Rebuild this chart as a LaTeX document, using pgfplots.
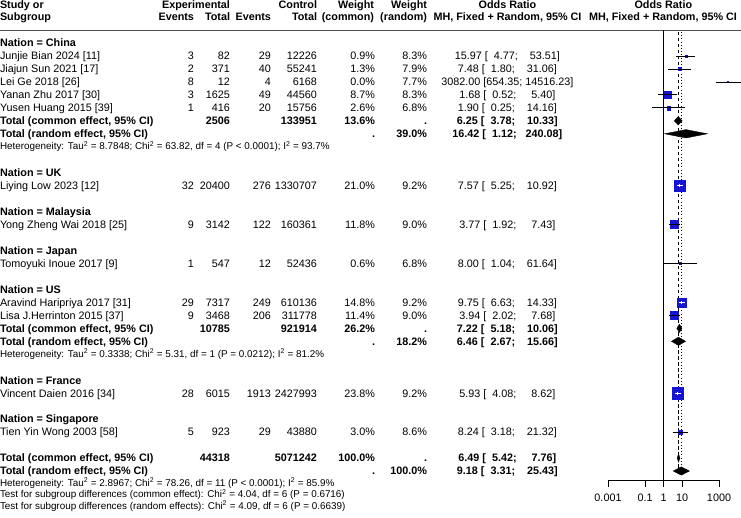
\documentclass[border=0pt]{standalone}
\usepackage{pgfplots}
\pgfplotsset{compat=1.18}
\usepackage{fontspec}
\setmainfont{Liberation Sans}
\definecolor{sqblue}{RGB}{20,20,210}
\newcommand\mf{\fontsize{10.8}{13}\selectfont}
\newcommand\hf{\fontsize{9.87}{12}\selectfont}
\newcommand\B[1]{-(43+(#1-2)*12.97+3.86)}
\newcommand\study[9]{%
  \node[anchor=base west] at (0,{\B{#1}}) {#2};
  \node[anchor=base east] at (194,{\B{#1}}) {#3};
  \node[anchor=base east] at (230,{\B{#1}}) {#4};
  \node[anchor=base east] at (271,{\B{#1}}) {#5};
  \node[anchor=base east] at (317,{\B{#1}}) {#6};
  \node[anchor=base east] at (375,{\B{#1}}) {#7};
  \node[anchor=base east] at (427,{\B{#1}}) {#8};
  \node[anchor=base] at (507.4,{\B{#1}}) {#9};
}
\newcommand\grp[2]{\node[anchor=base west] at (0,{\B{#1}}) {\bfseries #2};}
\newcommand\totc[5]{% k, et, ct, wc, or
  \node[anchor=base west] at (0,{\B{#1}}) {\bfseries Total (common effect, 95\% CI)};
  \node[anchor=base east] at (230,{\B{#1}}) {\bfseries #2};
  \node[anchor=base east] at (317,{\B{#1}}) {\bfseries #3};
  \node[anchor=base east] at (375,{\B{#1}}) {\bfseries #4};
  \node[anchor=base east] at (427,{\B{#1}}) {\bfseries .};
  \node[anchor=base] at (507.4,{\B{#1}}) {\bfseries #5};
}
\newcommand\totr[3]{% k, wr, or
  \node[anchor=base west] at (0,{\B{#1}}) {\bfseries Total (random effect, 95\% CI)};
  \node[anchor=base east] at (375,{\B{#1}}) {\bfseries .};
  \node[anchor=base east] at (427,{\B{#1}}) {\bfseries #2};
  \node[anchor=base] at (507.4,{\B{#1}}) {\bfseries #3};
}
\newcommand\het[2]{\node[anchor=base west,font=\hf] at (0,{-(#1+3.53)}) {#2};}
\begin{document}
\begin{tikzpicture}[x=1pt,y=1pt,font=\mf,every node/.style={inner sep=0pt,outer sep=0pt}]
\useasboundingbox (0,0) rectangle (741,-518);
% header
\node[anchor=base west] at (0,-8.3) {\bfseries Study or};
\node[anchor=base west] at (0,-20.7) {\bfseries Subgroup};
\node[anchor=base east] at (230,-8.3) {\bfseries Experimental};
\node[anchor=base east] at (194,-20.7) {\bfseries Events};
\node[anchor=base east] at (230,-20.7) {\bfseries Total};
\node[anchor=base east] at (271,-20.7) {\bfseries Events};
\node[anchor=base east] at (317,-8.3) {\bfseries Control};
\node[anchor=base east] at (317,-20.7) {\bfseries Total};
\node[anchor=base east] at (374,-8.3) {\bfseries Weight};
\node[anchor=base east] at (374,-20.7) {\bfseries (common)};
\node[anchor=base east] at (427,-8.3) {\bfseries Weight};
\node[anchor=base east] at (427,-20.7) {\bfseries (random)};
\node[anchor=base] at (507.5,-8.3) {\bfseries Odds Ratio};
\node[anchor=base] at (507.5,-20.7) {\bfseries MH, Fixed + Random, 95\% CI};
\node[anchor=base] at (663.3,-8.3) {\bfseries Odds Ratio};
\node[anchor=base] at (663,-20.7) {\bfseries MH, Fixed + Random, 95\% CI};
\draw[line width=0.8pt, black!70] (0,-30) -- (741,-30);
% China
\grp{2}{Nation = China}
\study{3}{Junjie Bian 2024 [11]}{3}{82}{29}{12226}{0.9\%}{8.3\%}{15.97 [~~4.77;~~~~53.51]}
\study{4}{Jiajun Sun 2021 [17]}{2}{371}{40}{55241}{1.3\%}{7.9\%}{7.48 [~~1.80;~~~~31.06]}
\study{5}{Lei Ge 2018 [26]}{8}{12}{4}{6168}{0.0\%}{7.7\%}{3082.00 [654.35; 14516.23]}
\study{6}{Yanan Zhu 2017 [30]}{3}{1625}{49}{44560}{8.7\%}{8.3\%}{1.68 [~~0.52;~~~~~5.40]}
\study{7}{Yusen Huang 2015 [39]}{1}{416}{20}{15756}{2.6\%}{6.8\%}{1.90 [~~0.25;~~~~14.16]}
\totc{8}{2506}{133951}{13.6\%}{6.25 [~~3.78;~~~~10.33]}
\totr{9}{39.0\%}{16.42 [~~1.12;~~~240.08]}
\het{146.3}{Heterogeneity: Tau\textsuperscript{2} = 8.7848; Chi\textsuperscript{2} = 63.82, df = 4 (P < 0.0001); I\textsuperscript{2} = 93.7\%}
% UK
\grp{12}{Nation = UK}
\study{13}{Liying Low 2023 [12]}{32}{20400}{276}{1330707}{21.0\%}{9.2\%}{7.57 [~~5.25;~~~~10.92]}
\grp{15}{Nation = Malaysia}
\study{16}{Yong Zheng Wai 2018 [25]}{9}{3142}{122}{160361}{11.8\%}{9.0\%}{3.77 [~~1.92;~~~~~7.43]}
\grp{18}{Nation = Japan}
\study{19}{Tomoyuki Inoue 2017 [9]}{1}{547}{12}{52436}{0.6\%}{6.8\%}{8.00 [~~1.04;~~~~61.64]}
\grp{21}{Nation = US}
\study{22}{Aravind Haripriya 2017 [31]}{29}{7317}{249}{610136}{14.8\%}{9.2\%}{9.75 [~~6.63;~~~~14.33]}
\study{23}{Lisa J.Herrinton 2015 [37]}{9}{3468}{206}{311778}{11.4\%}{9.0\%}{3.94 [~~2.02;~~~~~7.68]}
\totc{24}{10785}{921914}{26.2\%}{7.22 [~~5.18;~~~~10.06]}
\totr{25}{18.2\%}{6.46 [~~2.67;~~~~15.66]}
\het{353.8}{Heterogeneity: Tau\textsuperscript{2} = 0.3338; Chi\textsuperscript{2} = 5.31, df = 1 (P = 0.0212); I\textsuperscript{2} = 81.2\%}
\grp{28}{Nation = France}
\study{29}{Vincent Daien 2016 [34]}{28}{6015}{1913}{2427993}{23.8\%}{9.2\%}{5.93 [~~4.08;~~~~~8.62]}
\grp{31}{Nation = Singapore}
\study{32}{Tien Yin Wong 2003 [58]}{5}{923}{29}{43880}{3.0\%}{8.6\%}{8.24 [~~3.18;~~~~21.32]}
\totc{34}{44318}{5071242}{100.0\%}{6.49 [~~5.42;~~~~~7.76]}
\totr{35}{100.0\%}{9.18 [~~3.31;~~~~25.43]}
\het{482.5}{Heterogeneity: Tau\textsuperscript{2} = 2.8967; Chi\textsuperscript{2} = 78.26, df = 11 (P < 0.0001); I\textsuperscript{2} = 85.9\%}
\het{494.1}{Test for subgroup differences (common effect): Chi\textsuperscript{2} = 4.04, df = 6 (P = 0.6716)}
\het{505.7}{Test for subgroup differences (random effects): Chi\textsuperscript{2} = 4.09, df = 6 (P = 0.6639)}

\begin{axis}[
  at={(608pt,-480pt)}, anchor=south west,
  scale only axis, width=111pt, height=450pt,
  xmode=log, xmin=0.001, xmax=1000, ymin=-480, ymax=-30,
  axis x line*=bottom, axis y line=none,
  xtick={0.001,0.1,1,10,1000}, xticklabels={0.001,0.1,1,10,1000},
  xminorticks=false, tick align=outside, major tick length=7pt,
  xtick style={black, line width=0.8pt},
  x axis line style={line width=0.8pt},
  xticklabel style={font=\mf, inner sep=0pt, anchor=north, yshift=-7pt},
  clip=false,
  sq/.style={fill=sqblue, draw=sqblue, line width=0.3pt},
  ci/.style={black, line width=0.8pt},
  wci/.style={white, line width=0.8pt},
  dm/.style={fill=black, draw=black, line width=0.3pt},
]
\addplot[black, line width=0.8pt] coordinates {(1,-30) (1,-480)};
\addplot[black, line width=0.7pt, dash pattern=on 3.5pt off 2.5pt] coordinates {(6.49,-32) (6.49,-476)};
\addplot[black, line width=0.8pt, dash pattern=on 1pt off 2.2pt] coordinates {(9.18,-32) (9.18,-476)};
% squares (area proportional to common-effect weight)
\addplot[sq] coordinates {(13.93,-54.87) (18.31,-54.87) (18.31,-57.07) (13.93,-57.07)} --cycle;
\addplot[sq] coordinates {(6.347,-67.62) (8.816,-67.62) (8.816,-70.26) (6.347,-70.26)} --cycle;
\addplot[sq] coordinates {(2914.1,-81.46) (3259.5,-81.46) (3259.5,-82.36) (2914.1,-82.36)} --cycle;
\addplot[sq] coordinates {(1.098,-91.46) (2.571,-91.46) (2.571,-98.30) (1.098,-98.30)} --cycle;
\addplot[sq] coordinates {(1.505,-105.98) (2.398,-105.98) (2.398,-109.72) (1.505,-109.72)} --cycle;
\addplot[sq] coordinates {(3.909,-180.36) (14.659,-180.36) (14.659,-190.98) (3.909,-190.98)} --cycle;
\addplot[sq] coordinates {(2.297,-220.60) (6.187,-220.60) (6.187,-228.56) (2.297,-228.56)} --cycle;
\addplot[sq] coordinates {(7.153,-262.59) (8.947,-262.59) (8.947,-264.39) (7.153,-264.39)} --cycle;
\addplot[sq] coordinates {(5.597,-297.94) (16.984,-297.94) (16.984,-306.86) (5.597,-306.86)} --cycle;
\addplot[sq] coordinates {(2.422,-311.46) (6.410,-311.46) (6.410,-319.28) (2.422,-319.28)} --cycle;
\addplot[sq] coordinates {(2.935,-387.54) (11.982,-387.54) (11.982,-398.84) (2.935,-398.84)} --cycle;
\addplot[sq] coordinates {(6.424,-430.10) (10.570,-430.10) (10.570,-434.10) (6.424,-434.10)} --cycle;
% CI lines (black)
\addplot[ci] coordinates {(4.77,-55.97) (53.51,-55.97)};
\addplot[ci] coordinates {(1.80,-68.94) (31.06,-68.94)};
\addplot[ci] coordinates {(654.35,-81.91) (14516.23,-81.91)};
\addplot[ci] coordinates {(0.52,-94.88) (5.40,-94.88)};
\addplot[ci] coordinates {(0.25,-107.85) (14.16,-107.85)};
\addplot[ci] coordinates {(1.92,-224.58) (7.43,-224.58)};
\addplot[ci] coordinates {(1.04,-263.49) (61.64,-263.49)};
\addplot[ci] coordinates {(2.02,-315.37) (7.68,-315.37)};
\addplot[ci] coordinates {(3.18,-432.10) (21.32,-432.10)};
% CI lines inside squares (white)
\addplot[wci] coordinates {(5.25,-185.67) (10.92,-185.67)};
\addplot[wci] coordinates {(7.57,-184.0) (7.57,-187.3)};
\addplot[wci] coordinates {(6.63,-302.40) (14.33,-302.40)};
\addplot[wci] coordinates {(9.75,-300.8) (9.75,-304.0)};
\addplot[wci] coordinates {(4.08,-393.19) (8.62,-393.19)};
\addplot[wci] coordinates {(5.93,-391.5) (5.93,-394.8)};
% diamonds
\addplot[dm] coordinates {(3.78,-120.82) (6.25,-116.62) (10.33,-120.82) (6.25,-125.02)} --cycle;
\addplot[dm] coordinates {(1.12,-133.79) (16.42,-129.59) (240.08,-133.79) (16.42,-137.99)} --cycle;
\addplot[dm] coordinates {(5.18,-328.34) (7.22,-324.14) (10.06,-328.34) (7.22,-332.54)} --cycle;
\addplot[dm] coordinates {(2.67,-341.31) (6.46,-337.11) (15.66,-341.31) (6.46,-345.51)} --cycle;
\addplot[dm] coordinates {(5.42,-458.04) (6.49,-453.84) (7.76,-458.04) (6.49,-462.24)} --cycle;
\addplot[dm] coordinates {(3.31,-471.01) (9.18,-466.81) (25.43,-471.01) (9.18,-475.21)} --cycle;
\end{axis}
\end{tikzpicture}
\end{document}
